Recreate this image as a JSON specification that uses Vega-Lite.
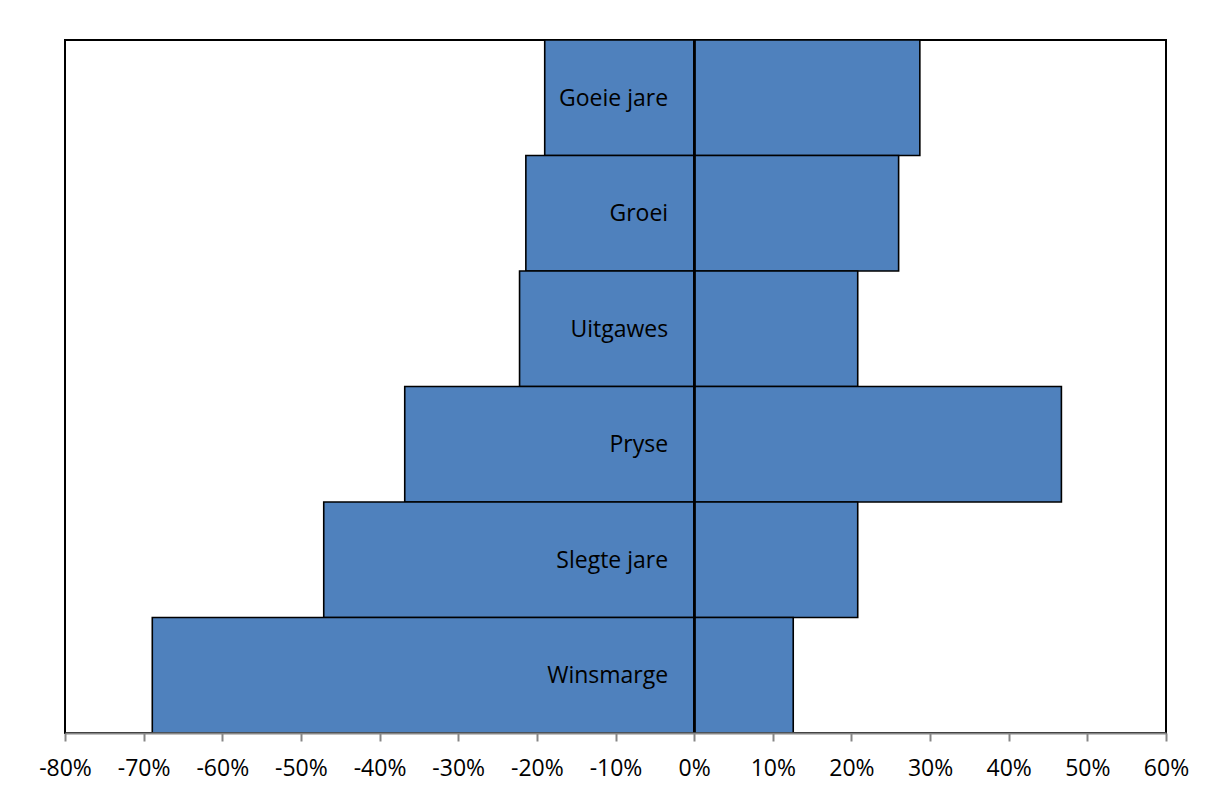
{
  "$schema": "https://vega.github.io/schema/vega-lite/v6.json",
  "width": 1101,
  "height": 693,
  "autosize": {"type": "none"},
  "padding": {"left": 65, "top": 40, "right": 42, "bottom": 61},
  "background": "white",
  "config": {
    "view": {"stroke": "black", "strokeWidth": 2},
    "font": "Open Sans"
  },
  "data": {
    "values": [
      {"kategorie": "Goeie jare", "waarde": -19.0},
      {"kategorie": "Goeie jare", "waarde": 28.7},
      {"kategorie": "Groei", "waarde": -21.4},
      {"kategorie": "Groei", "waarde": 26.0},
      {"kategorie": "Uitgawes", "waarde": -22.2},
      {"kategorie": "Uitgawes", "waarde": 20.8},
      {"kategorie": "Pryse", "waarde": -36.8},
      {"kategorie": "Pryse", "waarde": 46.7},
      {"kategorie": "Slegte jare", "waarde": -47.1},
      {"kategorie": "Slegte jare", "waarde": 20.8},
      {"kategorie": "Winsmarge", "waarde": -68.9},
      {"kategorie": "Winsmarge", "waarde": 12.6}
    ]
  },
  "encoding": {
    "y": {
      "field": "kategorie",
      "type": "nominal",
      "sort": null,
      "scale": {"paddingInner": 0, "paddingOuter": 0},
      "axis": null
    }
  },
  "layer": [
    {
      "mark": {"type": "bar", "fill": "#4F81BD", "stroke": "black", "strokeWidth": 1.6},
      "encoding": {
        "x": {
          "field": "waarde",
          "type": "quantitative",
          "scale": {"domain": [-80, 60], "nice": false, "zero": false},
          "axis": {
            "title": null,
            "values": [-80, -70, -60, -50, -40, -30, -20, -10, 0, 10, 20, 30, 40, 50, 60],
            "labelExpr": "datum.value + '%'",
            "labelFlush": false,
            "labelOverlap": false,
            "labelBound": false,
            "grid": false,
            "domainColor": "#868686",
            "domainWidth": 2,
            "tickColor": "#868686",
            "tickWidth": 2,
            "tickSize": 8,
            "labelColor": "black",
            "labelFontSize": 23,
            "labelPadding": 16,
            "labelFont": "Open Sans",
            "zindex": 1
          }
        }
      }
    },
    {
      "mark": {"type": "rule", "color": "black", "strokeWidth": 2},
      "encoding": {"x": {"datum": 0}, "y": null}
    },
    {
      "transform": [{"filter": "datum.waarde < 0"}],
      "mark": {"type": "text", "align": "right", "baseline": "middle", "dx": -26, "dy": 1, "fontSize": 23, "color": "black", "font": "Open Sans"},
      "encoding": {
        "x": {"datum": 0},
        "text": {"field": "kategorie"}
      }
    }
  ]
}
